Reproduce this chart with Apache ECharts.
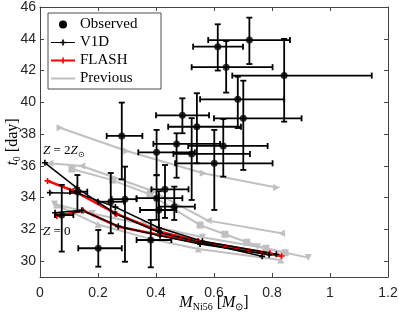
<!DOCTYPE html>
<html>
<head>
<meta charset="utf-8">
<script src="https://cdn.jsdelivr.net/npm/echarts@6/dist/echarts.min.js"></script>
<style>html,body{margin:0;padding:0;background:#fff}#c{width:399px;height:317px}</style>
</head>
<body>
<div id="c"></div>
<script>
// ---- tick labels ----
const xTicks = [0, 0.2, 0.4, 0.6, 0.8, 1, 1.2];
const yTicks = [30, 32, 34, 36, 38, 40, 42, 44, 46];

// ---- Observed (x = M_Ni56, t = t0) with asymmetric error bars ----
const obsX   = [0.613,0.722,0.642,0.842,0.682,0.701,0.282,0.491,0.541,0.471,0.402,0.523,0.601,0.632,0.431,0.402,0.410,0.463,0.129,0.244,0.293,0.075,0.201,0.382];
const obsT   = [43.50,43.92,42.21,41.68,40.19,38.99,37.88,39.18,38.46,37.38,36.85,36.75,36.16,37.25,34.52,33.96,33.22,33.43,34.37,33.74,33.90,32.90,30.81,31.33];
const obsXLo = [0.528,0.580,0.523,0.663,0.552,0.600,0.230,0.400,0.442,0.391,0.339,0.460,0.466,0.511,0.384,0.333,0.345,0.410,0.103,0.200,0.247,0.052,0.132,0.333];
const obsXHi = [0.700,0.862,0.802,1.144,0.842,0.902,0.353,0.583,0.693,0.621,0.534,0.724,0.802,0.785,0.512,0.491,0.470,0.534,0.163,0.290,0.333,0.115,0.282,0.453];
const obsTLo = [42.00,42.41,40.61,38.78,38.38,35.74,35.15,38.05,36.16,35.25,35.42,33.85,33.22,35.32,32.72,32.60,31.90,32.59,33.11,31.75,29.96,30.60,29.65,29.61];
const obsTHi = [44.91,45.33,43.86,43.99,41.61,41.36,39.98,40.25,40.57,38.05,38.26,39.00,38.26,38.95,36.05,35.40,34.40,34.69,35.42,35.55,35.95,34.80,31.96,32.59];

// ---- V1D model tracks ----
const v1dX1 = [0.017,0.128,0.259,0.414,0.546,0.766];
const v1dT1 = [36.19,34.60,33.00,31.79,31.22,30.30];
const v1dX2 = [0.034,0.130,0.260,0.410,0.560,0.815];
const v1dT2 = [34.31,34.28,33.40,32.10,31.25,30.43];
const v1dX3 = [0.052,0.144,0.270,0.414,0.552,0.790];
const v1dT3 = [33.05,33.20,32.20,31.60,31.08,30.40];

// ---- FLASH model tracks ----
const flX1 = [0.026,0.115,0.264,0.414,0.545,0.793];
const flT1 = [35.05,34.43,32.97,31.85,31.27,30.49];
const flX2 = [0.058,0.149,0.270,0.414,0.552,0.833];
const flT2 = [32.84,33.18,32.17,31.64,31.14,30.32];

// ---- Previous model tracks ----
const prX1 = [0.069,0.299,0.563,0.816];
const prT1 = [38.40,36.93,35.53,34.64];
const prX2 = [0.034,0.144,0.379,0.580,0.833];
const prT2 = [36.16,35.99,34.48,32.55,31.75];
const prX3 = [0.110,0.250,0.379,0.552,0.638,0.713,0.779,0.845];
const prT3 = [35.80,35.10,34.20,32.27,31.69,31.19,30.81,30.53];
const prX4 = [0.050,0.180,0.360,0.560,0.750,0.925];
const prT4 = [33.60,33.00,32.30,31.50,30.90,30.22];
const prX5 = [0.057,0.200,0.380,0.546,0.830];
const prT5 = [33.53,32.30,31.40,30.76,30.07];

const zip = (a, b) => a.map((v, i) => [v, b[i]]);
const obsData = obsX.map((v, i) => [v, obsT[i], obsXLo[i], obsXHi[i], obsTLo[i], obsTHi[i]]);

const AX = '#444';
const GRAY = '#c0c0c0';
const SERIF = 'Liberation Serif';
const plusPath = 'path://M-0.8,-3H0.8V-0.8H3V0.8H0.8V3H-0.8V0.8H-3V-0.8H-0.8Z';

function modelLine(name, data, color, width) {
  return {
    name, type: 'line', data, xAxisIndex: 0, yAxisIndex: 0,
    symbol: plusPath, symbolSize: 6, showSymbol: true,
    lineStyle: { color, width }, itemStyle: { color },
    emphasis: { disabled: true }, animation: false, z: 3
  };
}
function prevLine(data, rot, shape) {
  return {
    name: 'Previous', type: 'line', data,
    symbol: shape, symbolSize: 7, symbolRotate: rot,
    lineStyle: { color: GRAY, width: 2 }, itemStyle: { color: GRAY },
    emphasis: { disabled: true }, animation: false, z: 2
  };
}

const chart = echarts.init(document.getElementById('c'), null, { renderer: 'canvas' });
const lbl = { fontFamily: 'Liberation Sans', fontSize: 14, color: '#262626' };
const richName = {
  i: { fontFamily: SERIF, fontStyle: 'italic', fontSize: 16, lineHeight: 18, color: '#000' },
  r: { fontFamily: SERIF, fontSize: 16, lineHeight: 18, color: '#000' },
  s: { fontFamily: SERIF, fontSize: 10, lineHeight: 8, verticalAlign: 'bottom', color: '#000' }
};
chart.setOption({
  animation: false,
  backgroundColor: '#fff',
  grid: { left: 40, right: 11, top: 7, bottom: 40, containLabel: false, outerBoundsMode: 'none' },
  legend: {
    left: 48, top: 13, orient: 'vertical',
    backgroundColor: '#fff', borderColor: '#222', borderWidth: 0.8, borderRadius: 0,
    padding: [3, 1, 2, 3], itemGap: 1, itemWidth: 24, itemHeight: 8, itemTextGap: 3,
    textStyle: { fontFamily: SERIF, fontSize: 15, color: '#000', lineHeight: 17, width: 80 },
    selectedMode: false,
    data: [
      { name: 'Observed', icon: 'circle', itemStyle: { color: '#000' } },
      { name: 'V1D', icon: 'path://M0,3.4H24V4.6H0Z M11.2,1H12.8V7H11.2Z M9,3.2H15V4.8H9Z', itemStyle: { color: '#000' } },
      { name: 'FLASH', icon: 'path://M0,3.1H24V4.9H0Z M11.2,1H12.8V7H11.2Z M9,3.2H15V4.8H9Z', itemStyle: { color: '#ff0000' } },
      { name: 'Previous', icon: 'path://M0,3H24V5H0Z', itemStyle: { color: GRAY } }
    ]
  },
  xAxis: [{
    type: 'value', min: 0, max: 1.2, interval: 0.2, position: 'bottom',
    axisLine: { show: true, onZero: false, lineStyle: { color: AX, width: 1 } },
    axisTick: { show: true, inside: true, length: 4, lineStyle: { color: AX } },
    axisLabel: Object.assign({ margin: 9, formatter: v => xTicks.includes(+v.toFixed(1)) ? String(+v.toFixed(1)) : '' }, lbl),
    splitLine: { show: false },
    name: '{i|M}{s|Ni56}{r| [}{i|M}{s|⊙}{r|]}',
    nameLocation: 'middle', nameGap: 17, nameMoveOverlap: false,
    nameTextStyle: { rich: richName }
  }, {
    type: 'value', min: 0, max: 1.2, interval: 0.2, position: 'top',
    axisLine: { show: true, onZero: false, lineStyle: { color: AX, width: 1 } },
    axisTick: { show: true, inside: true, length: 4, lineStyle: { color: AX } },
    axisLabel: { show: false }, splitLine: { show: false }
  }],
  yAxis: [{
    type: 'value', min: 29, max: 46, position: 'left',
    axisLine: { show: true, onZero: false, lineStyle: { color: AX, width: 1 } },
    axisTick: { show: true, inside: true, length: 4, lineStyle: { color: AX }, customValues: yTicks },
    axisLabel: Object.assign({ margin: 4, customValues: yTicks }, lbl),
    splitLine: { show: false },
    name: '{i|t}{s|0}{r| [day]}',
    nameLocation: 'middle', nameGap: 18, nameRotate: 90, nameMoveOverlap: false,
    nameTextStyle: { rich: richName }
  }, {
    type: 'value', min: 29, max: 46, position: 'right',
    axisLine: { show: true, onZero: false, lineStyle: { color: AX, width: 1 } },
    axisTick: { show: true, inside: true, length: 4, lineStyle: { color: AX }, customValues: yTicks },
    axisLabel: { show: false }, splitLine: { show: false }
  }],
  graphic: [
    { type: 'text', x: 43, y: 151, z: 10, style: {
      text: '{i|Z}{r| = 2}{i|Z}{s|⊙}', verticalAlign: 'middle',
      rich: {
        i: { fontFamily: SERIF, fontStyle: 'italic', fontSize: 13, lineHeight: 15, fill: '#000' },
        r: { fontFamily: SERIF, fontSize: 13, lineHeight: 15, fill: '#000' },
        s: { fontFamily: SERIF, fontSize: 8, lineHeight: 7, verticalAlign: 'bottom', fill: '#000' }
      } } },
    { type: 'text', x: 43, y: 232, z: 10, style: {
      text: '{i|Z}{r| = 0}', verticalAlign: 'middle',
      rich: {
        i: { fontFamily: SERIF, fontStyle: 'italic', fontSize: 13, lineHeight: 15, fill: '#000' },
        r: { fontFamily: SERIF, fontSize: 13, lineHeight: 15, fill: '#000' }
      } } }
  ],
  series: [
    prevLine(zip(prX1, prT1), -90, 'triangle'),
    prevLine(zip(prX2, prT2), 90, 'triangle'),
    prevLine(zip(prX3, prT3), 0, 'rect'),
    prevLine(zip(prX4, prT4), 180, 'triangle'),
    prevLine(zip(prX5, prT5), 0, 'triangle'),
    modelLine('FLASH', zip(flX1, flT1), '#ff0000', 2.5),
    modelLine('FLASH', zip(flX2, flT2), '#ff0000', 2.5),
    modelLine('V1D', zip(v1dX1, v1dT1), '#000', 1.5),
    modelLine('V1D', zip(v1dX2, v1dT2), '#000', 1.5),
    modelLine('V1D', zip(v1dX3, v1dT3), '#000', 1.5),
    {
      name: 'Observed', type: 'custom', data: obsData, z: 5,
      renderItem: function (params, api) {
        const x = api.value(0), t = api.value(1);
        const pL = api.coord([api.value(2), t]), pR = api.coord([api.value(3), t]);
        const pB = api.coord([x, api.value(4)]), pT = api.coord([x, api.value(5)]);
        const c = 3;
        const st = { stroke: '#000', lineWidth: 1.8 };
        const ln = (x1, y1, x2, y2) => ({ type: 'line', shape: { x1, y1, x2, y2 }, style: st });
        return { type: 'group', children: [
          ln(pL[0], pL[1], pR[0], pR[1]),
          ln(pL[0], pL[1] - c, pL[0], pL[1] + c),
          ln(pR[0], pR[1] - c, pR[0], pR[1] + c),
          ln(pB[0], pB[1], pT[0], pT[1]),
          ln(pB[0] - c, pB[1], pB[0] + c, pB[1]),
          ln(pT[0] - c, pT[1], pT[0] + c, pT[1])
        ] };
      },
      animation: false
    },
    {
      name: 'Observed', type: 'scatter', data: zip(obsX, obsT), z: 6,
      symbol: 'circle', symbolSize: 7, itemStyle: { color: '#000' },
      emphasis: { disabled: true }, animation: false
    }
  ]
});
</script>
</body>
</html>
